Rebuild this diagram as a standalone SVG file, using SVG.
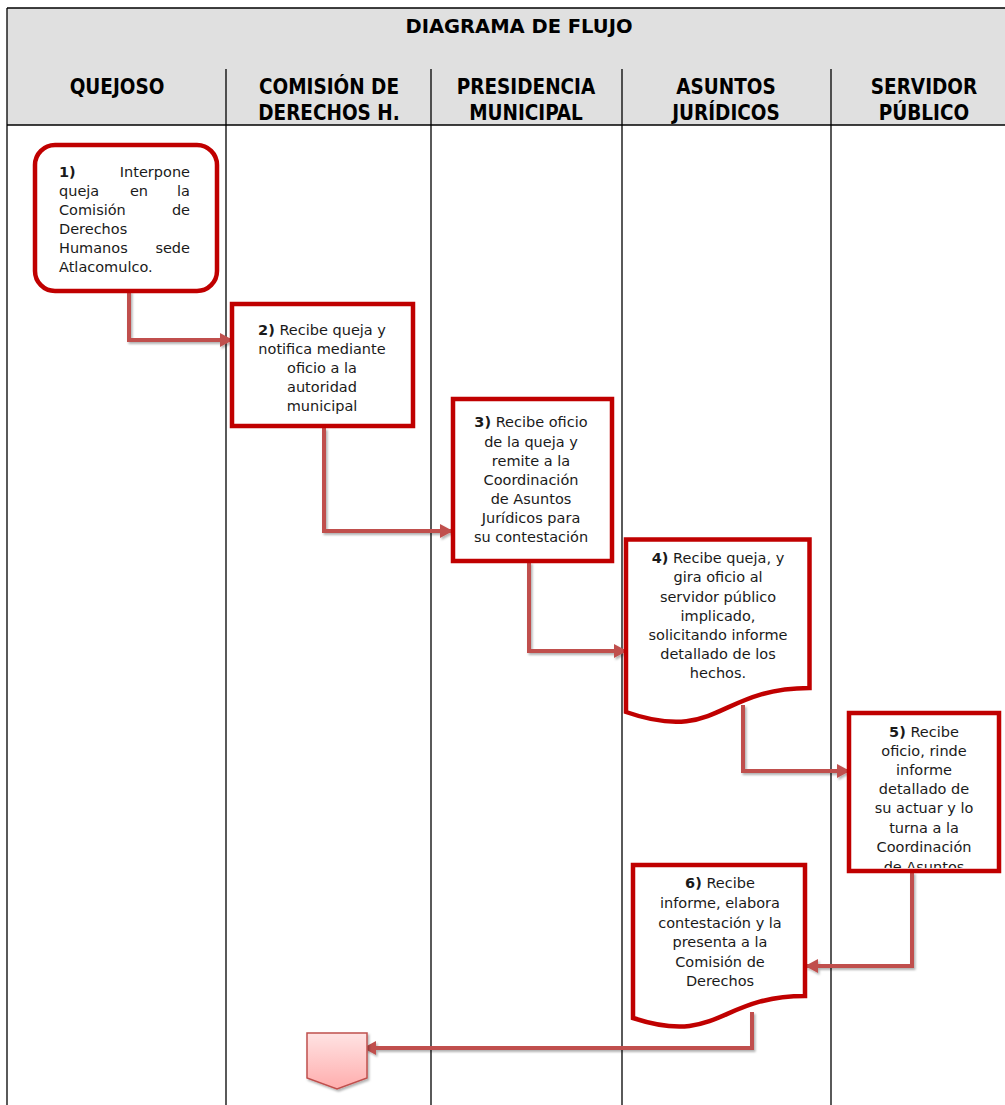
<svg xmlns="http://www.w3.org/2000/svg" width="1005" height="1105" viewBox="0 0 1005 1105">
  <defs>
    <style>
      .hdr { font-family: "DejaVu Sans Condensed", "DejaVu Sans", "Liberation Sans", sans-serif; font-weight: bold; font-size: 20.5px; fill: #000; text-anchor: middle; }
      .title { font-family: "DejaVu Sans", "Liberation Sans", sans-serif; font-weight: bold; font-size: 19.5px; fill: #000; text-anchor: middle; }
      .lane { stroke: #000; stroke-width: 1.3; fill: none; }
      .box { fill: #fff; stroke: #C00000; stroke-width: 4.5; }
      .txt { font-family: "DejaVu Sans", "Liberation Sans", sans-serif; font-size: 14.5px; fill: #1a1a1a; text-anchor: middle; }
      .txtl { font-family: "DejaVu Sans", "Liberation Sans", sans-serif; font-size: 14.5px; fill: #1a1a1a; }
      .b { font-weight: bold; }
      .conn { fill: none; stroke: #C0504D; stroke-width: 4; marker-end: url(#arrow); }
    </style>
    <marker id="arrow" markerUnits="userSpaceOnUse" markerWidth="15" markerHeight="15" refX="12" refY="7.5" orient="auto">
      <path d="M0,0.5 L13,7.5 L0,14.5 Z" fill="#C0504D"/>
    </marker>
    <filter id="shadow" x="-20%" y="-20%" width="140%" height="140%">
      <feDropShadow dx="1.5" dy="2" stdDeviation="1.2" flood-color="#000" flood-opacity="0.3"/>
    </filter>
    <linearGradient id="pink" x1="0" y1="0" x2="0" y2="1">
      <stop offset="0" stop-color="#FFE3E3"/>
      <stop offset="1" stop-color="#FFADAD"/>
    </linearGradient>
    <clipPath id="clip5">
      <rect x="851" y="715" width="146" height="153"/>
    </clipPath>
  </defs>

  <!-- table / header -->
  <rect x="7" y="8" width="1010" height="117" fill="#E0E0E0"/>
  <line class="lane" x1="7" y1="8" x2="1005" y2="8"/>
  <line class="lane" x1="7" y1="8" x2="7" y2="1105"/>
  <line class="lane" x1="7" y1="125" x2="1005" y2="125"/>
  <line class="lane" x1="226" y1="69" x2="226" y2="1105"/>
  <line class="lane" x1="431" y1="69" x2="431" y2="1105"/>
  <line class="lane" x1="622" y1="69" x2="622" y2="1105"/>
  <line class="lane" x1="831" y1="69" x2="831" y2="1105"/>

  <text class="title" x="519" y="33">DIAGRAMA DE FLUJO</text>
  <text class="hdr" x="117" y="94">QUEJOSO</text>
  <text class="hdr" x="329" y="94">COMISIÓN DE</text>
  <text class="hdr" x="329" y="120">DERECHOS H.</text>
  <text class="hdr" x="526" y="94">PRESIDENCIA</text>
  <text class="hdr" x="526" y="120">MUNICIPAL</text>
  <text class="hdr" x="726" y="94">ASUNTOS</text>
  <text class="hdr" x="726" y="120">JURÍDICOS</text>
  <text class="hdr" x="924" y="94">SERVIDOR</text>
  <text class="hdr" x="924" y="120">PÚBLICO</text>

  <!-- connectors -->
  <g id="connectors" filter="url(#shadow)">
    <polyline class="conn" points="129,291 129,340 232,340"/>
    <polyline class="conn" points="324,428 324,531 452,531"/>
    <polyline class="conn" points="529,562 529,651 626,651"/>
    <polyline class="conn" points="743,705 743,771 849,771"/>
    <polyline class="conn" points="912,872 912,966 806,966"/>
    <polyline class="conn" points="752,1012 752,1048 364,1048"/>
  </g>

  <!-- node 1 -->
  <g id="node1">
    <rect class="box" x="35" y="145" width="182" height="146" rx="20" ry="20"/>
    <text class="txtl" y="177"><tspan x="59" class="b">1)</tspan></text>
    <text class="txtl" y="177" x="190" text-anchor="end">Interpone</text>
    <text class="txtl" y="196" x="59">queja</text>
    <text class="txt" y="196" x="139">en</text>
    <text class="txtl" y="196" x="190" text-anchor="end">la</text>
    <text class="txtl" y="215" x="59">Comisión</text>
    <text class="txtl" y="215" x="190" text-anchor="end">de</text>
    <text class="txtl" y="234" x="59">Derechos</text>
    <text class="txtl" y="253" x="59">Humanos</text>
    <text class="txtl" y="253" x="190" text-anchor="end">sede</text>
    <text class="txtl" y="272" x="59">Atlacomulco.</text>
  </g>

  <!-- node 2 -->
  <g id="node2">
    <rect class="box" x="232" y="304" width="181" height="122"/>
    <text class="txt" x="322" y="335"><tspan class="b">2)</tspan> Recibe queja y</text>
    <text class="txt" x="322" y="354">notifica mediante</text>
    <text class="txt" x="322" y="373">oficio a la</text>
    <text class="txt" x="322" y="392">autoridad</text>
    <text class="txt" x="322" y="411">municipal</text>
  </g>

  <!-- node 3 -->
  <g id="node3">
    <rect class="box" x="453" y="399" width="159" height="162"/>
    <text class="txt" x="531" y="427"><tspan class="b">3)</tspan> Recibe oficio</text>
    <text class="txt" x="531" y="447">de la queja y</text>
    <text class="txt" x="531" y="466">remite a la</text>
    <text class="txt" x="531" y="485">Coordinación</text>
    <text class="txt" x="531" y="504">de Asuntos</text>
    <text class="txt" x="531" y="523">Jurídicos para</text>
    <text class="txt" x="531" y="542">su contestación</text>
  </g>

  <!-- node 4 -->
  <g id="node4">
    <path class="box" d="M626,539.5 H809.5 V688 C717.75,688 717.75,744 626,712 Z"/>
    <text class="txt" x="718" y="563"><tspan class="b">4)</tspan> Recibe queja, y</text>
    <text class="txt" x="718" y="582">gira oficio al</text>
    <text class="txt" x="718" y="602">servidor público</text>
    <text class="txt" x="718" y="621">implicado,</text>
    <text class="txt" x="718" y="640">solicitando informe</text>
    <text class="txt" x="718" y="659">detallado de los</text>
    <text class="txt" x="718" y="678">hechos.</text>
  </g>

  <!-- node 5 -->
  <g id="node5">
    <rect class="box" x="849" y="713" width="150" height="158"/>
    <g clip-path="url(#clip5)">
      <text class="txt" x="924" y="737"><tspan class="b">5)</tspan> Recibe</text>
      <text class="txt" x="924" y="756">oficio, rinde</text>
      <text class="txt" x="924" y="775">informe</text>
      <text class="txt" x="924" y="794">detallado de</text>
      <text class="txt" x="924" y="813">su actuar y lo</text>
      <text class="txt" x="924" y="833">turna a la</text>
      <text class="txt" x="924" y="852">Coordinación</text>
      <text class="txt" x="924" y="872">de Asuntos</text>
    </g>
  </g>

  <!-- node 6 -->
  <g id="node6">
    <path class="box" d="M633,865 H805 V996 C719,996 719,1046 633,1018 Z"/>
    <text class="txt" x="720" y="888"><tspan class="b">6)</tspan> Recibe</text>
    <text class="txt" x="720" y="908">informe, elabora</text>
    <text class="txt" x="720" y="928">contestación y la</text>
    <text class="txt" x="720" y="947">presenta a la</text>
    <text class="txt" x="720" y="967">Comisión de</text>
    <text class="txt" x="720" y="986">Derechos</text>
  </g>

  <!-- off-page connector -->
  <g id="offpage" filter="url(#shadow)">
    <path d="M307,1033 H367 V1078 L337,1089 L307,1078 Z" fill="url(#pink)" stroke="#C0504D" stroke-width="1.5"/>
  </g>
</svg>
